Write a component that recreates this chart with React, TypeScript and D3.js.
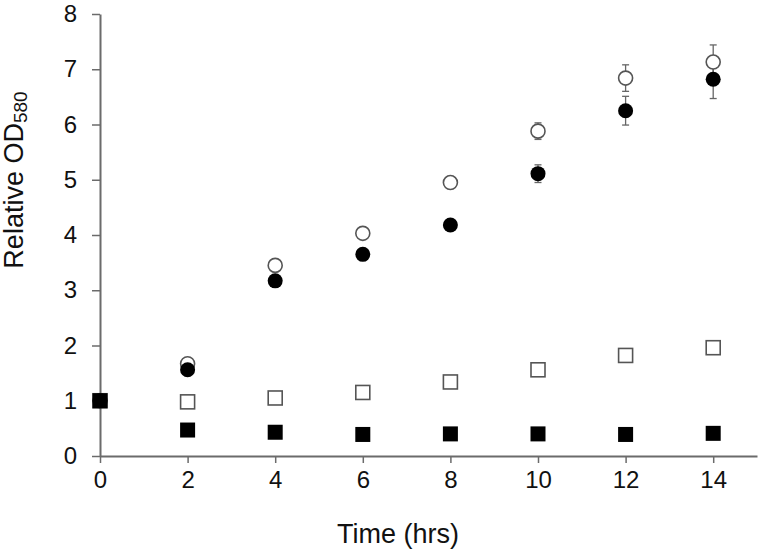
import { useEffect, useRef } from 'react';
import * as d3 from 'd3';

const hours = [0, 2, 4, 6, 8, 10, 12, 14];
const openCircle = [1.0, 1.67, 3.45, 4.03, 4.95, 5.88, 6.84, 7.13];
const openCircleErr = [0, 0.04, 0.04, 0.04, 0.05, 0.15, 0.24, 0.31];
const filledCircle = [1.0, 1.56, 3.17, 3.65, 4.18, 5.11, 6.25, 6.82];
const filledCircleErr = [0, 0.04, 0.04, 0.04, 0.05, 0.16, 0.26, 0.35];
const openSquare = [1.0, 0.98, 1.05, 1.15, 1.34, 1.56, 1.82, 1.96];
const filledSquare = [1.0, 0.47, 0.43, 0.39, 0.4, 0.4, 0.39, 0.41];
const xTicks = [0, 2, 4, 6, 8, 10, 12, 14];
const yTicks = [0, 1, 2, 3, 4, 5, 6, 7, 8];

export default function App() {
  const svgRef = useRef<SVGSVGElement>(null);

  useEffect(() => {
    const svg = d3.select(svgRef.current);
    svg.selectAll('*').remove();
    const font = 'Liberation Sans, Arial, sans-serif';
    const axisColor = '#6b6b6b';

    const x = d3.scaleLinear().domain([0, 15]).range([100, 757]);
    const y = d3.scaleLinear().domain([0, 8]).range([456, 14]);

    // axes
    const xAxis = svg.append('g')
      .attr('transform', `translate(0, ${y(0)})`)
      .call(d3.axisBottom(x).tickValues(xTicks).tickSize(7).tickSizeOuter(0).tickPadding(8));
    const yAxis = svg.append('g')
      .attr('transform', `translate(${x(0)}, 0)`)
      .call(d3.axisLeft(y).tickValues(yTicks).tickSize(8).tickSizeOuter(0).tickPadding(15));

    [xAxis, yAxis].forEach((g) => {
      g.select('.domain').attr('stroke', axisColor).attr('stroke-width', 2);
      g.selectAll('.tick line').attr('stroke', axisColor).attr('stroke-width', 1.5);
      g.selectAll('.tick text')
        .attr('fill', '#111')
        .attr('font-family', font)
        .attr('font-size', 24);
    });

    // axis titles
    svg.append('text')
      .attr('x', 398)
      .attr('y', 543)
      .attr('text-anchor', 'middle')
      .attr('font-family', font)
      .attr('font-size', 27)
      .attr('fill', '#111')
      .text('Time (hrs)');

    const yt = svg.append('text')
      .attr('transform', 'translate(23, 180) rotate(-90)')
      .attr('text-anchor', 'middle')
      .attr('font-family', font)
      .attr('font-size', 27)
      .attr('fill', '#111');
    yt.append('tspan').text('Relative OD');
    yt.append('tspan').attr('font-size', 19).attr('dy', 4).text('580');

    // error bars
    const errG = svg.append('g').attr('stroke', '#666').attr('stroke-width', 1.3);
    const drawErr = (vals: number[], errs: number[]) => {
      hours.forEach((h, i) => {
        if (!errs[i]) return;
        const cx = x(h);
        const top = y(vals[i] + errs[i]);
        const bot = y(vals[i] - errs[i]);
        errG.append('line').attr('x1', cx).attr('x2', cx).attr('y1', top).attr('y2', bot);
        errG.append('line').attr('x1', cx - 3.5).attr('x2', cx + 3.5).attr('y1', top).attr('y2', top);
        errG.append('line').attr('x1', cx - 3.5).attr('x2', cx + 3.5).attr('y1', bot).attr('y2', bot);
      });
    };
    drawErr(openCircle, openCircleErr);
    drawErr(filledCircle, filledCircleErr);

    // markers
    const sq = 14;
    svg.append('g').selectAll('rect')
      .data(openSquare)
      .enter()
      .append('rect')
      .attr('x', (d, i) => x(hours[i]) - sq / 2)
      .attr('y', (d) => y(d) - sq / 2)
      .attr('width', sq)
      .attr('height', sq)
      .attr('fill', '#fff')
      .attr('stroke', '#555')
      .attr('stroke-width', 1.6);

    svg.append('g').selectAll('circle')
      .data(openCircle)
      .enter()
      .append('circle')
      .attr('cx', (d, i) => x(hours[i]))
      .attr('cy', (d) => y(d))
      .attr('r', 7)
      .attr('fill', '#fff')
      .attr('stroke', '#555')
      .attr('stroke-width', 1.6);

    svg.append('g').selectAll('circle')
      .data(filledCircle)
      .enter()
      .append('circle')
      .attr('cx', (d, i) => x(hours[i]))
      .attr('cy', (d) => y(d))
      .attr('r', 7.5)
      .attr('fill', '#000');

    const fsq = 15;
    svg.append('g').selectAll('rect')
      .data(filledSquare)
      .enter()
      .append('rect')
      .attr('x', (d, i) => x(hours[i]) - fsq / 2)
      .attr('y', (d) => y(d) - fsq / 2)
      .attr('width', fsq)
      .attr('height', fsq)
      .attr('fill', '#000');
  }, []);

  return (
    <svg
      ref={svgRef}
      width="760"
      height="550"
      style={{ position: 'absolute', left: 0, top: 0, background: '#fff' }}
    />
  );
}
